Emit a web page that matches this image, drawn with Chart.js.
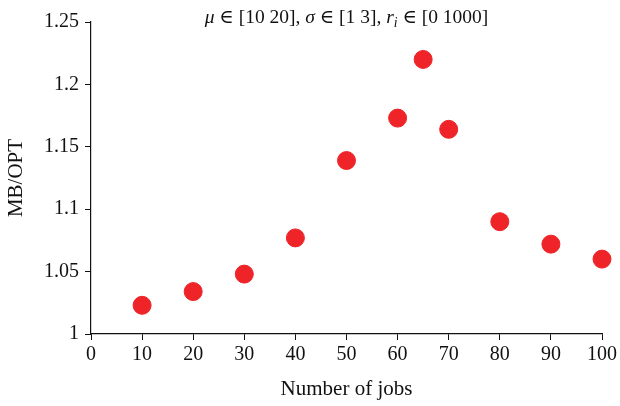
<!DOCTYPE html>
<html>
<head>
<meta charset="utf-8">
<script src="https://cdn.jsdelivr.net/npm/chart.js@4/dist/chart.umd.min.js"></script>
<style>
  html, body { margin: 0; padding: 0; background: #fff; }
  #wrap { width: 620px; height: 406px; }
</style>
</head>
<body>
<div id="wrap"><canvas id="chart" width="620" height="406"></canvas></div>
<script>
const jobs = [10, 20, 30, 40, 50, 60, 65, 70, 80, 90, 100];
const ratio = [1.023, 1.034, 1.048, 1.077, 1.139, 1.173, 1.220, 1.164, 1.090, 1.072, 1.060];
const xTicks = [0, 10, 20, 30, 40, 50, 60, 70, 80, 90, 100];
const yTicks = [1, 1.05, 1.1, 1.15, 1.2, 1.25];
const yTickLabels = ['1', '1.05', '1.1', '1.15', '1.2', '1.25'];

const FONT = '"Liberation Serif", "DejaVu Serif", serif';

// title with italic symbols and a subscript
const titleParts = [
  { t: 'μ', it: true }, { t: ' ∈ [10 20], ' },
  { t: 'σ', it: true }, { t: ' ∈ [1 3], ' },
  { t: 'r', it: true }, { t: 'i', it: true, sub: true },
  { t: ' ∈ [0 1000]' }
];

const titlePlugin = {
  id: 'mathTitle',
  afterDraw(chart) {
    const ctx = chart.ctx;
    const area = chart.chartArea;
    const size = 19.5;
    const fontFor = p => `${p.it ? 'italic ' : ''}${p.sub ? size * 0.7 : size}px ${FONT}`;
    let total = 0;
    for (const p of titleParts) {
      ctx.font = fontFor(p);
      total += ctx.measureText(p.t).width;
    }
    let x = (area.left + area.right) / 2 - total / 2;
    const y = 23;
    ctx.save();
    ctx.fillStyle = '#111';
    ctx.textBaseline = 'alphabetic';
    ctx.textAlign = 'left';
    for (const p of titleParts) {
      ctx.font = fontFor(p);
      ctx.fillText(p.t, x, p.sub ? y + 4 : y);
      x += ctx.measureText(p.t).width;
    }
    ctx.restore();
  }
};

new Chart(document.getElementById('chart'), {
  type: 'scatter',
  data: {
    datasets: [{
      data: jobs.map((j, i) => ({ x: j, y: ratio[i] })),
      backgroundColor: '#ee2428',
      borderColor: '#ee2428',
      pointRadius: 9,
      pointHoverRadius: 9,
      clip: false
    }]
  },
  options: {
    responsive: false,
    animation: false,
    layout: { padding: { top: 22, right: 16, left: 0, bottom: 0 } },
    plugins: { legend: { display: false }, tooltip: { enabled: false } },
    scales: {
      x: {
        type: 'linear',
        min: 0, max: 100,
        afterBuildTicks: s => { s.ticks = xTicks.map(v => ({ value: v })); },
        afterFit: s => { s.height = 72; },
        border: { display: true, color: '#111', width: 1.2 },
        grid: { drawOnChartArea: false, drawTicks: true, tickLength: 6, color: '#111' },
        ticks: { color: '#111', font: { family: FONT, size: 20 }, padding: 3, maxRotation: 0 },
        title: { display: true, text: 'Number of jobs', color: '#111', font: { family: FONT, size: 21 }, padding: { top: 2 } }
      },
      y: {
        min: 1, max: 1.25,
        afterBuildTicks: s => { s.ticks = yTicks.map(v => ({ value: v })); },
        afterFit: s => { s.width = 91; },
        border: { display: true, color: '#111', width: 1.2 },
        grid: { drawOnChartArea: false, drawTicks: true, tickLength: 6, color: '#111' },
        ticks: {
          color: '#111', font: { family: FONT, size: 20 }, padding: 6,
          callback: v => yTickLabels[yTicks.indexOf(v)] ?? ''
        },
        title: { display: true, text: 'MB/OPT', color: '#111', font: { family: FONT, size: 21 }, padding: { top: 4, bottom: 0 } }
      }
    }
  },
  plugins: [titlePlugin]
});
</script>
</body>
</html>
